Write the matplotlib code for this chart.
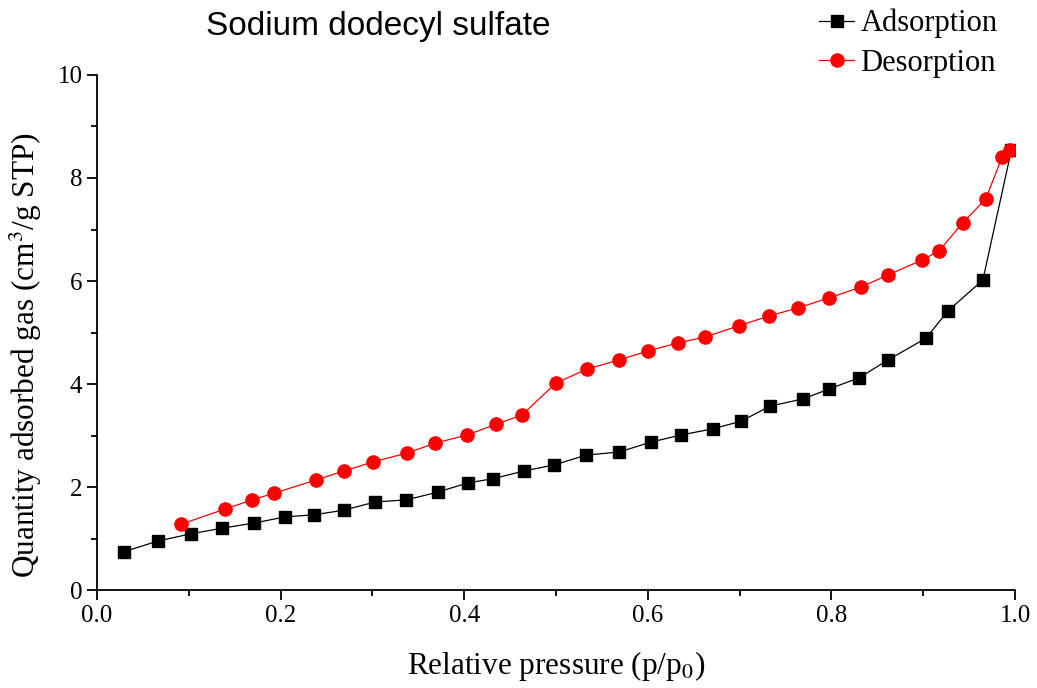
import matplotlib.pyplot as plt
from matplotlib.ticker import MultipleLocator, FormatStrFormatter

plt.rcParams['mathtext.fontset'] = 'stix'

# adsorption branch
ads_p = [0.029, 0.066, 0.102, 0.136, 0.171, 0.205, 0.236, 0.269, 0.303, 0.337,
         0.371, 0.404, 0.431, 0.465, 0.498, 0.533, 0.569, 0.603, 0.636, 0.671,
         0.702, 0.733, 0.769, 0.797, 0.830, 0.862, 0.903, 0.927, 0.965, 0.996]
ads_q = [0.74, 0.95, 1.09, 1.20, 1.30, 1.42, 1.46, 1.55, 1.71, 1.75,
         1.90, 2.08, 2.16, 2.31, 2.43, 2.62, 2.68, 2.87, 3.01, 3.13,
         3.28, 3.57, 3.71, 3.90, 4.12, 4.47, 4.89, 5.42, 6.02, 8.54]

# desorption branch
des_p = [0.092, 0.139, 0.169, 0.193, 0.239, 0.269, 0.301, 0.338, 0.368, 0.403,
         0.435, 0.463, 0.500, 0.534, 0.569, 0.600, 0.633, 0.662, 0.699, 0.732,
         0.764, 0.797, 0.832, 0.862, 0.899, 0.917, 0.943, 0.968, 0.986, 0.995]
des_q = [1.28, 1.57, 1.75, 1.88, 2.14, 2.31, 2.49, 2.66, 2.85, 3.01,
         3.22, 3.40, 4.02, 4.29, 4.47, 4.64, 4.80, 4.91, 5.13, 5.32,
         5.48, 5.67, 5.88, 6.12, 6.41, 6.58, 7.13, 7.59, 8.41, 8.54]

serif = ['Liberation Serif', 'DejaVu Serif']

fig = plt.figure(figsize=(10.37, 6.88), dpi=100)
ax = fig.add_axes([0.0935, 0.1424, 0.8853, 0.7486])

ax.plot(ads_p, ads_q, '-s', color='black', lw=0.9, ms=8, label='Adsorption')
ax.plot(des_p, des_q, '-o', color='red', mfc='red', mec='red', lw=0.9, ms=9.5,
        label='Desorption')

ax.set_xlim(0, 1.0)
ax.set_ylim(0, 10)
ax.xaxis.set_major_locator(MultipleLocator(0.2))
ax.xaxis.set_minor_locator(MultipleLocator(0.1))
ax.xaxis.set_major_formatter(FormatStrFormatter('%.1f'))
ax.yaxis.set_major_locator(MultipleLocator(2))
ax.yaxis.set_minor_locator(MultipleLocator(1))
ax.tick_params(which='major', direction='out', length=7, width=1.3, labelsize=18)
ax.tick_params(which='minor', direction='out', length=4, width=1.3)
for lbl in ax.get_xticklabels() + ax.get_yticklabels():
    lbl.set_family(serif)

for side in ('top', 'right'):
    ax.spines[side].set_visible(False)
for side in ('left', 'bottom'):
    ax.spines[side].set_linewidth(1.3)

ax.set_xlabel('Relative pressure (p/p$_0$)', family=serif, fontsize=22.5, labelpad=16)
ax.set_ylabel('Quantity adsorbed gas (cm$^3$/g STP)', family=serif, fontsize=22.5)
ax.yaxis.set_label_coords(-0.058, 0.456)

fig.text(0.365, 0.961, 'Sodium dodecyl sulfate', family=['Liberation Sans', 'DejaVu Sans'],
         fontsize=24, ha='center', va='center')

fig.legend(loc='upper right', bbox_to_anchor=(0.9885, 1.027), frameon=False,
           prop={'family': serif, 'size': 22}, handlelength=1.15, handletextpad=0.2,
           labelspacing=0.35)

fig.savefig('out.png', dpi=100)
